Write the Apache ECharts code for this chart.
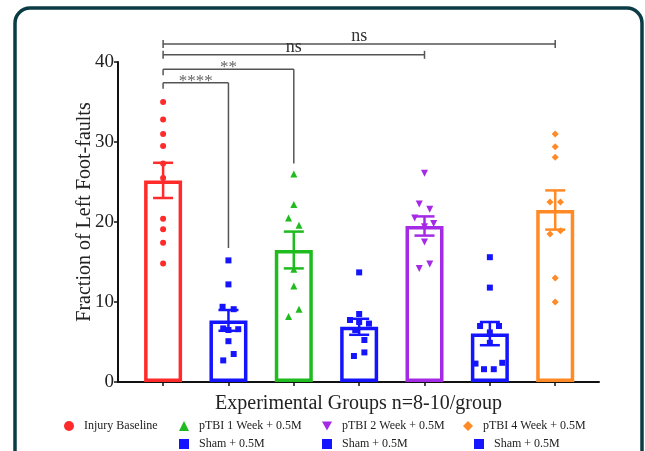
<!DOCTYPE html>
<html>
<head>
    <meta charset="utf-8">
    <title>Left foot-faults</title>
    <script src="https://cdn.jsdelivr.net/npm/echarts@6/dist/echarts.min.js"></script>
    <style type="text/css">
        body{
            margin: 0;
            background: #fff;
        }
        #main{
            width: 645px;
            height: 451px;
        }
    </style>
</head>
<body>
<div id="main"></div>
<script>
    // groups, left to right
    var groups = ['Injury Baseline', 'Sham + 0.5M', 'pTBI 1 Week + 0.5M', 'Sham + 0.5M',
                  'pTBI 2 Week + 0.5M', 'Sham + 0.5M', 'pTBI 4 Week + 0.5M'];
    var means = [25.2, 7.7, 16.5, 6.9, 19.5, 6.05, 21.5];
    var sems = [2.2, 1.3, 2.3, 1.0, 1.2, 1.45, 2.45];

    // individual animals (values) and their horizontal spread (in group widths)
    var ptsInjury = [35.0, 32.8, 31.0, 29.5, 27.3, 25.5, 20.4, 19.1, 17.4, 14.8];
    var jitInjury = [0, 0, 0, 0, 0, 0, 0, 0, 0, 0];
    var ptsSham1 = [15.2, 12.2, 9.4, 9.1, 6.7, 6.5, 6.6, 5.1, 3.5, 2.7];
    var jitSham1 = [0, 0, -0.09, 0.08, -0.08, 0, 0.15, 0, 0.08, -0.08];
    var ptsWeek1 = [26.0, 22.2, 20.5, 19.6, 14.1, 12.0, 9.1, 8.2];
    var jitWeek1 = [0, 0, -0.08, 0.08, 0, 0, 0.08, -0.08];
    var ptsSham2 = [13.7, 8.5, 7.75, 7.5, 7.3, 6.5, 5.25, 3.7, 3.25];
    var jitSham2 = [0, 0, -0.14, 0, 0.15, -0.06, 0.08, 0.08, -0.08];
    var ptsWeek2 = [26.1, 22.25, 21.6, 20.5, 19.8, 19.4, 17.5, 14.75, 14.2];
    var jitWeek2 = [0, -0.08, 0.08, -0.15, 0.14, 0, 0, 0.08, -0.08];
    var ptsSham3 = [15.6, 11.8, 7.0, 7.0, 6.2, 4.9, 2.4, 2.3, 1.6, 1.6];
    var jitSham3 = [0, 0, -0.15, 0.14, 0, 0, 0.19, -0.22, -0.09, 0.06];
    var ptsWeek4 = [31.0, 29.4, 28.1, 22.5, 22.5, 18.9, 18.5, 13.0, 10.0];
    var jitWeek4 = [0, 0, 0, -0.08, 0.08, 0.08, -0.08, 0, 0];

    // significance brackets
    var brFrom = [0, 0, 0, 0];
    var brTo = [6, 4, 2, 1];
    var brY = [42.25, 40.9, 39.1, 37.4];
    var brDrop = [null, null, 27.3, 16.75];
    var brText = ['ns', 'ns', '**', '****'];

    var yTicks = [0, 10, 20, 30, 40];

    var colors = ['#ff2b2b', '#1414ff', '#1fbb1f', '#1414ff', '#a52ae6', '#1414ff', '#ff8a26'];
    var downTri = 'path://M0,0L10,0L5,9Z';
    var symbols = ['circle', 'rect', 'triangle', 'rect', downTri, 'rect', 'diamond'];
    var symSizes = [6, 6, 7, 6, 7, 6, 7];
    var allPts = [ptsInjury, ptsSham1, ptsWeek1, ptsSham2, ptsWeek2, ptsSham3, ptsWeek4];
    var allJit = [jitInjury, jitSham1, jitWeek1, jitSham2, jitWeek2, jitSham3, jitWeek4];

    var serif = '"Liberation Serif", "DejaVu Serif", serif';

    var myChart = echarts.init(document.getElementById('main'));

    var barData = means.map(function (m, i) {
        return {
            value: [i, m],
            itemStyle: {color: '#fff', borderColor: colors[i], borderWidth: 3.5}
        };
    });

    var errData = means.map(function (m, i) { return [i, m, sems[i]]; });

    var brData = brFrom.map(function (f, i) { return [f, brTo[i], brY[i], brDrop[i], i]; });

    var scatterSeries = allPts.map(function (pts, g) {
        return {
            name: groups[g],
            type: 'scatter',
            symbol: symbols[g],
            symbolSize: symSizes[g],
            itemStyle: {color: colors[g], opacity: 1},
            z: 5,
            data: pts.map(function (v, k) { return [g + allJit[g][k], v]; })
        };
    });

    // one legend block per entry, as in the figure
    var legendNames = ['Injury Baseline', 'pTBI 1 Week + 0.5M', 'pTBI 2 Week + 0.5M', 'pTBI 4 Week + 0.5M',
                       'Sham + 0.5M', 'Sham + 0.5M', 'Sham + 0.5M'];
    var legendIcons = ['circle', 'triangle', downTri, 'diamond', 'rect', 'rect', 'rect'];
    var legendLeft = [64, 179, 322, 463, 179, 322, 474];
    var legendTop = [420, 420, 420, 420, 438, 438, 438];
    var legends = legendNames.map(function (n, i) {
        return {
            data: [{name: n, icon: legendIcons[i]}],
            left: legendLeft[i],
            top: legendTop[i],
            itemWidth: 10,
            itemHeight: 10,
            padding: 0,
            selectedMode: false,
            textStyle: {fontFamily: serif, fontSize: 12, color: '#222', padding: [0, 0, 0, 5]}
        };
    });

    var option = {
        backgroundColor: '#fff',
        animation: false,
        legend: legends,
        graphic: [{
            type: 'rect',
            shape: {x: 15, y: 8, width: 627, height: 470, r: 15},
            style: {fill: 'none', stroke: '#0b3c46', lineWidth: 3.5},
            silent: true
        }],
        grid: {left: 118, right: 46, top: 62, bottom: 69},
        xAxis: {
            type: 'value',
            min: -0.69,
            max: 6.67,
            name: 'Experimental Groups n=8-10/group',
            nameLocation: 'middle',
            nameGap: 12,
            nameTextStyle: {fontFamily: serif, fontSize: 20, color: '#222'},
            axisLine: {onZero: false, lineStyle: {color: '#111', width: 2}},
            axisTick: {show: true, customValues: [0, 1, 2, 3, 4, 5, 6], length: 4, inside: false,
                       lineStyle: {color: '#111', width: 1.5}},
            axisLabel: {show: false},
            splitLine: {show: false}
        },
        yAxis: {
            type: 'value',
            min: 0,
            max: 40,
            interval: 10,
            name: 'Fraction of Left Foot-faults',
            nameLocation: 'middle',
            nameGap: 23,
            nameMoveOverlap: false,
            nameTextStyle: {fontFamily: serif, fontSize: 20, color: '#222', padding: [0, 0, 0, 20]},
            axisLine: {show: true, onZero: false, lineStyle: {color: '#111', width: 2}},
            axisTick: {show: true, length: 4, lineStyle: {color: '#111', width: 1.5}},
            axisLabel: {fontFamily: serif, fontSize: 19, color: '#222', margin: 4,
                        formatter: function (v) { return yTicks.indexOf(v) >= 0 ? v : ''; }},
            splitLine: {show: false}
        },
        series: [{
            type: 'bar',
            barWidth: 38,
            z: 2,
            data: barData
        }, {
            type: 'custom',
            z: 3,
            renderItem: function (params, api) {
                var x = api.value(0), m = api.value(1), s = api.value(2);
                var top = api.coord([x, m + s]);
                var bot = api.coord([x, m - s]);
                var c = colors[params.dataIndex];
                var hw = 10;
                var st = {stroke: c, lineWidth: 2.5};
                return {
                    type: 'group',
                    children: [
                        {type: 'line', shape: {x1: top[0], y1: top[1], x2: bot[0], y2: bot[1]}, style: st},
                        {type: 'line', shape: {x1: top[0] - hw, y1: top[1], x2: top[0] + hw, y2: top[1]}, style: st},
                        {type: 'line', shape: {x1: bot[0] - hw, y1: bot[1], x2: bot[0] + hw, y2: bot[1]}, style: st}
                    ]
                };
            },
            data: errData
        }, {
            type: 'custom',
            z: 4,
            clip: false,
            renderItem: function (params, api) {
                var a = api.coord([api.value(0), api.value(2)]);
                var b = api.coord([api.value(1), api.value(2)]);
                var drop = brDrop[params.dataIndex];
                var label = brText[params.dataIndex];
                var st = {stroke: '#555', lineWidth: 1.5};
                var kids = [{type: 'line', shape: {x1: a[0], y1: a[1], x2: b[0], y2: b[1]}, style: st}];
                if (drop == null) {
                    kids.push({type: 'line', shape: {x1: a[0], y1: a[1] - 4, x2: a[0], y2: a[1] + 4}, style: st});
                    kids.push({type: 'line', shape: {x1: b[0], y1: b[1] - 4, x2: b[0], y2: b[1] + 4}, style: st});
                } else {
                    var d = api.coord([api.value(1), drop]);
                    kids.push({type: 'line', shape: {x1: a[0], y1: a[1], x2: a[0], y2: a[1] + 6}, style: st});
                    kids.push({type: 'line', shape: {x1: b[0], y1: b[1], x2: d[0], y2: d[1]}, style: st});
                }
                var star = label.charAt(0) === '*';
                kids.push({
                    type: 'text',
                    style: {
                        text: label,
                        x: (a[0] + b[0]) / 2,
                        y: a[1] + (star ? 7 : 1),
                        align: 'center',
                        verticalAlign: 'bottom',
                        font: (star ? '17px ' : '18px ') + serif,
                        fill: star ? '#666' : '#333'
                    }
                });
                return {type: 'group', children: kids};
            },
            data: brData
        }].concat(scatterSeries)
    };

    myChart.setOption(option);
</script>
</body>
</html>
